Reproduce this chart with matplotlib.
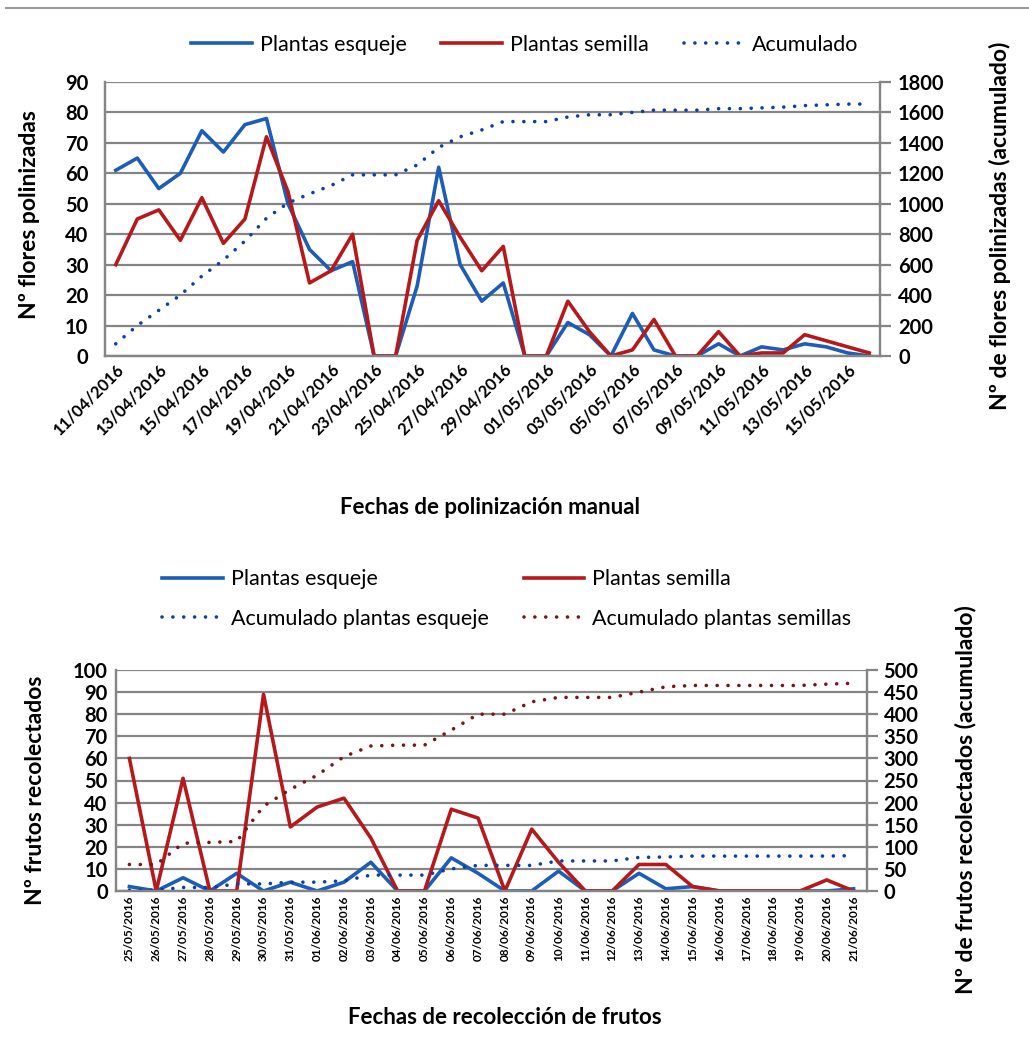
import matplotlib
matplotlib.use("Agg")
import matplotlib.pyplot as plt
from matplotlib.lines import Line2D

plt.rcParams["font.family"] = ["Lato", "DejaVu Sans"]

# --- top chart: manual pollination ---
fechas_pol = (
    [f"{d:02d}/04/2016" for d in range(11, 31)]
    + [f"{d:02d}/05/2016" for d in range(1, 17)]
)
flores_esqueje = [61, 65, 55, 60, 74, 67, 76, 78, 50, 35, 28, 31, 0, 0, 23, 62, 30, 18,
                  24, 0, 0, 11, 7, 0, 14, 2, 0, 0, 4, 0, 3, 2, 4, 3, 1, 0]
flores_semilla = [30, 45, 48, 38, 52, 37, 45, 72, 54, 24, 28, 40, 0, 0, 38, 51, 39, 28,
                  36, 0, 0, 18, 8, 0, 2, 12, 0, 0, 8, 0, 1, 1, 7, 5, 3, 1]
flores_acumulado = [80, 200, 300, 400, 525, 630, 755, 905, 1005, 1065, 1120, 1190, 1190,
                    1190, 1255, 1370, 1440, 1485, 1540, 1540, 1540, 1570, 1585, 1585, 1600,
                    1615, 1615, 1615, 1625, 1625, 1630, 1635, 1645, 1650, 1655, 1655]

# --- bottom chart: fruit harvest ---
fechas_rec = (
    [f"{d:02d}/05/2016" for d in range(25, 32)]
    + [f"{d:02d}/06/2016" for d in range(1, 22)]
)
frutos_esqueje = [2, 0, 6, 0, 8, 0, 4, 0, 4, 13, 0, 0, 15, 8, 0, 0, 9, 0, 0, 8, 1, 2,
                  0, 0, 0, 0, 0, 1]
frutos_semilla = [60, 0, 51, 0, 0, 89, 29, 38, 42, 24, 0, 0, 37, 33, 0, 28, 13, 0, 0,
                  12, 12, 2, 0, 0, 0, 0, 5, 0]
acum_esqueje = [2, 2, 8, 8, 16, 16, 20, 20, 23, 36, 36, 36, 50, 58, 58, 58, 68, 68, 68,
                76, 77, 79, 79, 79, 79, 79, 79, 80]
acum_semilla = [60, 60, 108, 110, 112, 192, 230, 262, 304, 328, 330, 330, 364, 400, 400,
                428, 438, 438, 438, 450, 462, 465, 465, 465, 465, 465, 468, 470]

W, H = 1029, 1060
BLUE = "#1d5db5"
RED = "#b5191c"
DOT_BLUE = "#0b3ea6"
DOT_RED = "#7a1416"
GRID = "#858585"

fig = plt.figure(figsize=(W / 100, H / 100), dpi=100)
fig.add_artist(Line2D([6 / W, 1], [1 - 8 / H] * 2, color="#9a9a9a", lw=1.5))


def box(left, top, right, bottom):
    return [left / W, 1 - bottom / H, (right - left) / W, (bottom - top) / H]


def ftext(x, y, s, **kw):
    fig.text(x / W, 1 - y / H, s, **kw)


def style(ax, ax2, size):
    ax.grid(axis="y", color=GRID, lw=1.6)
    ax.set_axisbelow(True)
    for a in (ax, ax2):
        a.spines["top"].set_visible(False)
        for side in ("left", "right", "bottom"):
            a.spines[side].set_color(GRID)
            a.spines[side].set_linewidth(1.6)
    ax.tick_params(axis="y", length=0, pad=12, labelsize=size)
    ax.tick_params(axis="x", length=0)
    ax2.tick_params(axis="y", length=8, width=1.6, color=GRID, pad=5, labelsize=size)
    for lab in ax.get_yticklabels() + ax2.get_yticklabels():
        lab.set_fontweight("bold")


dotted = dict(lw=2.6, linestyle=(0, (0.01, 3.0)), dash_capstyle="round")
leg_kw = dict(loc="center", bbox_transform=fig.transFigure, frameon=False, fontsize=15.5,
              handlelength=2.8, handletextpad=0.4)

# ---------------- top ----------------
ax = fig.add_axes(box(105, 82, 880, 356))
ax2 = ax.twinx()
x = range(len(fechas_pol))
l1, = ax.plot(x, flores_esqueje, color=BLUE, lw=2.6, label="Plantas esqueje")
l2, = ax.plot(x, flores_semilla, color=RED, lw=2.6, label="Plantas semilla")
l3, = ax2.plot(x, flores_acumulado, color=DOT_BLUE, label="Acumulado", **dotted)
ax.set_xlim(-0.5, len(fechas_pol) - 0.5)
ax.set_ylim(0, 90)
ax.set_yticks(range(0, 91, 10))
ax2.set_ylim(0, 1800)
ax2.set_yticks(range(0, 1801, 200))
ax.set_xticks(list(x)[::2])
ax.set_xticklabels(fechas_pol[::2], rotation=45, ha="right", va="top",
                   rotation_mode="anchor", fontsize=12, fontweight="bold")
style(ax, ax2, 14.5)
ax.legend(handles=[l1, l2, l3], bbox_to_anchor=(525 / W, 1 - 45 / H), ncol=3,
          columnspacing=1.6, **leg_kw)
ftext(30, 215, "Nº flores polinizadas", rotation=90, ha="center", va="center",
      fontsize=16.5, fontweight="bold")
ftext(1000, 226, "Nº de flores polinizadas (acumulado)", rotation=90, ha="center",
      va="center", fontsize=16.5, fontweight="bold")
ftext(490, 507, "Fechas de polinización manual", ha="center", va="center",
      fontsize=16, fontweight="bold")

# ---------------- bottom ----------------
bx = fig.add_axes(box(116, 670, 867, 891))
bx2 = bx.twinx()
x = range(len(fechas_rec))
m1, = bx.plot(x, frutos_esqueje, color=BLUE, lw=2.6, label="Plantas esqueje")
m2, = bx.plot(x, frutos_semilla, color=RED, lw=2.6, label="Plantas semilla")
m3, = bx2.plot(x, acum_esqueje, color=DOT_BLUE, label="Acumulado plantas esqueje", **dotted)
m4, = bx2.plot(x, acum_semilla, color=DOT_RED, label="Acumulado plantas semillas", **dotted)
bx.set_xlim(-0.5, len(fechas_rec) - 0.5)
bx.set_ylim(0, 100)
bx.set_yticks(range(0, 101, 10))
bx2.set_ylim(0, 500)
bx2.set_yticks(range(0, 501, 50))
bx.set_xticks(list(x))
bx.set_xticklabels(fechas_rec, rotation=90, ha="center", va="top", fontsize=8.5,
                   fontweight="bold")
style(bx, bx2, 14.5)
bx.tick_params(axis="y", pad=6)
bx2.tick_params(axis="y", pad=4)
bx.legend(handles=[m1, m3, m2, m4], bbox_to_anchor=(507 / W, 1 - 599 / H), ncol=2,
          columnspacing=1.6, labelspacing=0.9, **leg_kw)
ftext(36, 790, "Nº frutos recolectados", rotation=90, ha="center", va="center",
      fontsize=16.5, fontweight="bold")
ftext(965, 800, "Nº de frutos recolectados (acumulado)", rotation=90, ha="center",
      va="center", fontsize=16.5, fontweight="bold")
ftext(505, 1018, "Fechas de recolección de frutos", ha="center", va="center",
      fontsize=16, fontweight="bold")

fig.savefig("out.png", dpi=100, facecolor="white")
